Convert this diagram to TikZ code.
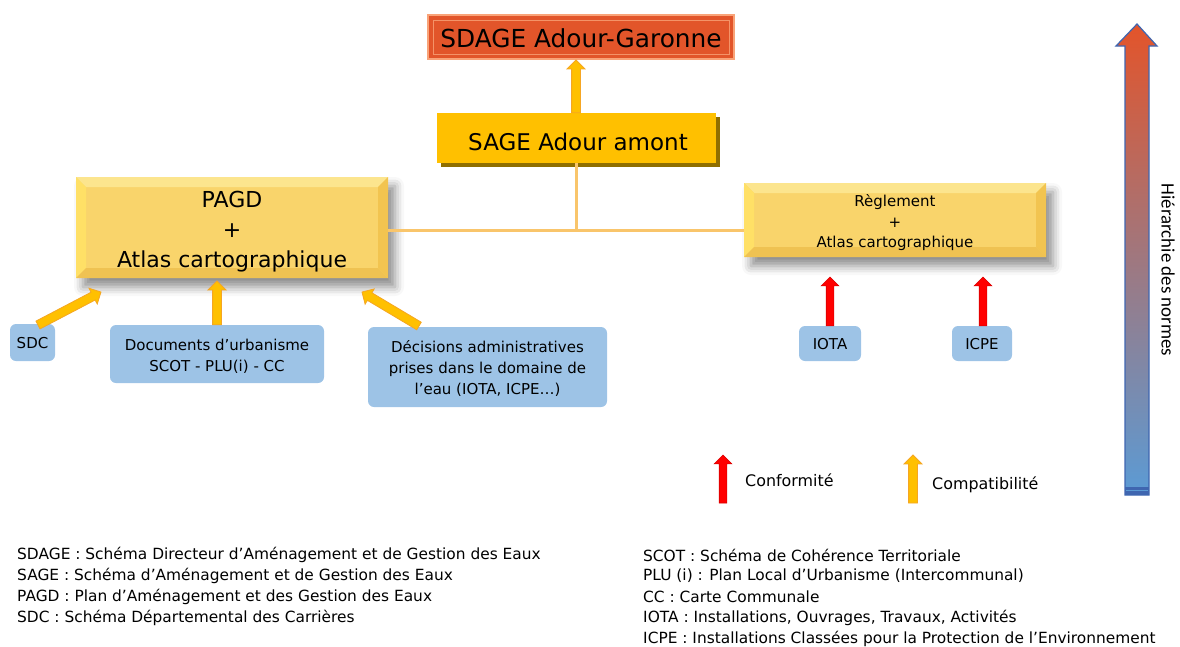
\documentclass[tikz,border=0pt]{standalone}
\usepackage{fontspec}
\setmainfont{DejaVu Sans}
\newfontfamily\calib{Carlito}
\usetikzlibrary{shapes.arrows,shadows,shadows.blur,calc}
\definecolor{sdagefill}{HTML}{E2552A}
\definecolor{sdageline}{HTML}{F9A378}
\definecolor{sagefill}{HTML}{FFC000}
\definecolor{sageshadow}{HTML}{8F6E00}
\definecolor{bevfill}{HTML}{F9D46B}
\definecolor{bevtop}{HTML}{FCE58E}
\definecolor{bevleft}{HTML}{FFE066}
\definecolor{bevright}{HTML}{F2C450}
\definecolor{bevbot}{HTML}{EFC252}
\definecolor{bluefill}{HTML}{9DC3E6}
\definecolor{yarrf}{HTML}{FFC000}
\definecolor{yarrb}{HTML}{F5A623}
\definecolor{rarrf}{HTML}{FF0000}
\definecolor{rarrb}{HTML}{D80000}
\definecolor{connline}{HTML}{F9C56B}
\definecolor{harrtop}{HTML}{E3542A}
\definecolor{harrmid}{HTML}{BE6F86}
\definecolor{harrbot}{HTML}{5B9BD5}
\definecolor{harrline}{HTML}{3F66B0}
\newcommand\fatarr[3]{%
  \path let \p1=(#2), \p2=(#3),
    \n1={veclen(\x2-\x1,\y2-\y1)}, \n2={atan2(\y2-\y1,\x2-\x1)} in
    node[#1, minimum height=\n1, rotate=\n2, anchor=tail] at (\p1) {};}
\newcommand\bw{10pt}
\begin{document}
\begin{tikzpicture}[x=1pt,y=-1pt,
  sdagebox/.style={rectangle, fill=sdagefill, draw=sdageline, line width=2pt,
    minimum width=306pt, minimum height=44pt, inner sep=0pt,
    path picture={\draw[sdageline!80!sdagefill, line width=0.8pt]
      ([xshift=5pt,yshift=-5pt]path picture bounding box.north west) rectangle
      ([xshift=-5pt,yshift=5pt]path picture bounding box.south east);}},
  sagebox/.style={rectangle, fill=sagefill, minimum width=279pt, minimum height=50pt,
    inner sep=0pt,
    drop shadow={shadow xshift=4pt, shadow yshift=-4pt, fill=sageshadow, opacity=1}},
  bevelbox/.style={rectangle, fill=bevfill, inner sep=0pt,
    blur shadow={shadow xshift=7pt, shadow yshift=-9pt, shadow blur radius=9pt, shadow opacity=45},
    path picture={
      \fill[bevtop] (path picture bounding box.north west) -- (path picture bounding box.north east)
        -- ([xshift=-\bw,yshift=-\bw]path picture bounding box.north east)
        -- ([xshift=\bw,yshift=-\bw]path picture bounding box.north west) -- cycle;
      \fill[bevleft] (path picture bounding box.north west) -- (path picture bounding box.south west)
        -- ([xshift=\bw,yshift=\bw]path picture bounding box.south west)
        -- ([xshift=\bw,yshift=-\bw]path picture bounding box.north west) -- cycle;
      \fill[bevright] (path picture bounding box.north east) -- (path picture bounding box.south east)
        -- ([xshift=-\bw,yshift=\bw]path picture bounding box.south east)
        -- ([xshift=-\bw,yshift=-\bw]path picture bounding box.north east) -- cycle;
      \fill[bevbot] (path picture bounding box.south west) -- (path picture bounding box.south east)
        -- ([xshift=-\bw,yshift=\bw]path picture bounding box.south east)
        -- ([xshift=\bw,yshift=\bw]path picture bounding box.south west) -- cycle;}},
  boxtext/.style={inner sep=0pt, align=center},
  bluebox/.style={rectangle, rounded corners=6pt, fill=bluefill, inner sep=0pt},
  bluetext/.style={inner sep=0pt, align=center, font=\fontsize{15}{21}\selectfont},
  yarr/.style={single arrow, draw=yarrb, fill=yarrf, line width=0.8pt, minimum width=17pt,
    single arrow head extend=4.5pt, inner xsep=0pt, inner ysep=4pt, outer sep=0pt},
  rarr/.style={single arrow, draw=rarrb, fill=rarrf, line width=0.6pt, minimum width=17pt,
    single arrow head extend=5pt, inner xsep=0pt, inner ysep=3.5pt, outer sep=0pt},
  conn/.style={draw=connline, line width=3pt},
  legend/.style={anchor=west, inner sep=0pt, font=\fontsize{15.9}{18}\selectfont},
  foot/.style={anchor=west, inner sep=0pt, font=\fontsize{15.4}{18}\selectfont}
]
\useasboundingbox (0,0) rectangle (1180,646);

% hierarchy arrow
\shade[top color=harrtop, middle color=harrmid, bottom color=harrbot, draw=harrline, line width=1.2pt]
  (1137,24) -- (1157,46) -- (1149,46) -- (1149,495) -- (1125,495) -- (1125,46) -- (1116,46) -- cycle;
\fill[harrline] (1125,487) rectangle (1149,495);
\draw[harrbot, line width=0.8pt] (1126,490.5) -- (1148,490.5);
\node[rotate=-90, inner sep=0pt, font=\calib\fontsize{18.9}{20}\selectfont] (hier) at (1168,270) {Hiérarchie des normes};

% main boxes
\node[sdagebox] (sdage) at (581,37) {};
\node[boxtext, font=\fontsize{24.8}{28}\selectfont] (sdagetxt) at (581,38.5) {SDAGE Adour-Garonne};
\node[sagebox] (sage) at (576,138) {};
\node[boxtext, font=\fontsize{23}{26}\selectfont] (sagetxt) at (578,141.5) {SAGE Adour amont};
\node[bevelbox, minimum width=312pt, minimum height=101pt] (pagd) at (232,227.5) {};
\node[boxtext, font=\fontsize{22}{30}\selectfont] (pagdtxt) at (232,232) {PAGD\\+\\Atlas cartographique};
\node[bevelbox, minimum width=302pt, minimum height=74pt] (regl) at (895,220) {};
\node[boxtext, font=\fontsize{15}{20.5}\selectfont] (regltxt) at (895,223) {Règlement\\+\\Atlas cartographique};

% connector lines
\coordinate (junc) at (576,230);
\draw[conn] (sage.south) -- (junc);
\draw[conn] (pagd.east |- junc) -- (regl.west |- junc);

% blue boxes
\node[bluebox, minimum width=45pt, minimum height=37pt] (sdc) at (32.5,342.5) {};
\node[bluetext] (sdctxt) at (32.5,343) {SDC};
\node[bluebox, minimum width=214pt, minimum height=58pt] (doc) at (217,354) {};
\node[bluetext] (doctxt) at (217,356) {Documents d’urbanisme\\SCOT - PLU(i) - CC};
\node[bluebox, minimum width=239pt, minimum height=80pt] (dec) at (487.5,367) {};
\node[bluetext] (dectxt) at (487.5,368) {Décisions administratives\\prises dans le domaine de\\l’eau (IOTA, ICPE…)};
\node[bluebox, minimum width=62pt, minimum height=35pt] (iota) at (830,343.5) {};
\node[bluetext] (iotatxt) at (830,344.5) {IOTA};
\node[bluebox, minimum width=60pt, minimum height=35pt] (icpe) at (982,343.5) {};
\node[bluetext] (icpetxt) at (982,344.5) {ICPE};

% arrows
\coordinate (sdcT) at (38,325);
\coordinate (sdcH) at (101,292);
\coordinate (docH) at (217,281);
\coordinate (decT) at (419,326);
\coordinate (decH) at (362,292);
\coordinate (iotaH) at (830,277);
\coordinate (icpeH) at (983,277);
\fatarr{yarr}{sage.north}{sage.north |- sdage.south}
\fatarr{yarr}{sdcT}{sdcH}
\fatarr{yarr}{doc.north}{docH}
\fatarr{yarr}{decT}{decH}
\fatarr{rarr}{iota.north -| iotaH}{iotaH}
\fatarr{rarr}{icpe.north -| icpeH}{icpeH}

% legend
\coordinate (lr1) at (723,503);
\coordinate (lr2) at (723,455);
\coordinate (ly1) at (913,503);
\coordinate (ly2) at (913,455);
\fatarr{rarr}{lr1}{lr2}
\fatarr{yarr}{ly1}{ly2}
\node[legend] (conf) at (745,480.5) {Conformité};
\node[legend] (comp) at (932,484.5) {Compatibilité};

% footnotes
\node[foot] (f1) at (17,554.5) {SDAGE : Schéma Directeur d’Aménagement et de Gestion des Eaux};
\node[foot] (f2) at (17,575.5) {SAGE : Schéma d’Aménagement et de Gestion des Eaux};
\node[foot] (f3) at (17,596.5) {PAGD : Plan d’Aménagement et des Gestion des Eaux};
\node[foot] (f4) at (17,617.5) {SDC : Schéma Départemental des Carrières};
\node[foot] (g1) at (643,555) {SCOT : Schéma de Cohérence Territoriale};
\node[foot] (g2) at (643,576) {PLU (i) : Plan Local d’Urbanisme (Intercommunal)};
\node[foot] (g3) at (643,597) {CC : Carte Communale};
\node[foot] (g4) at (643,618) {IOTA : Installations, Ouvrages, Travaux, Activités};
\node[foot] (g5) at (643,638.5) {ICPE : Installations Classées pour la Protection de l’Environnement};
\end{tikzpicture}
\end{document}
